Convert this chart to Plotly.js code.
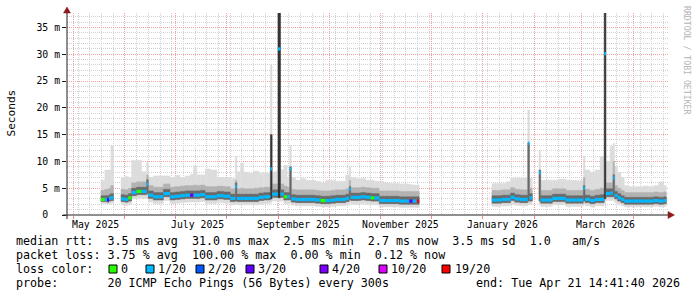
<!DOCTYPE html>
<html><head><meta charset="utf-8">
<script src="https://cdn.plot.ly/plotly-3.0.1.min.js"></script>
<style>html,body{margin:0;padding:0;background:#fff}#chart{width:697px;height:297px}</style>
</head><body><div id="chart"></div>
<script>
// days since 2025-05-01 (start of each consolidated column); null median marks end of a data run
const days = [16.7,19,20.3,21.5,22.6,24.2,
28.7,31,33,35,38,41,44,45,48,51,
54,58,61,64,67,70,72,74,76,79,
82,86,90,94,97,98,100,102,105,108,
111,114,118,119,121,122.5,124,126,128,129.5,
130.5,133,136,139,142,145,148,151,154,157,
160,163,165,166,169,172,175,178,180,183,
186,189,192,195,198,201,203,205.5,206.9,
250.4,253,256,259,261.5,264,267,270,271.8,272.8,
274.5,
278.5,279.5,283,286.5,290,294.5,298,301,305,
306,309,312,315,317.5,318.5,321,322.7,323.7,325.5,
327.5,329.5,332,335,338,341,344,347,350,353,
354.6];

// median rtt (ms)
const median = [2.9,2.9,2.85,3.1,3.2,null,
3.0,2.9,3.2,4.2,4.4,4.4,5.8,3.7,3.4,3.4,
4.0,3.4,3.5,3.6,3.7,3.7,3.7,3.7,3.8,3.4,
3.4,3.6,3.5,3.1,5.3,3.1,3.1,3.1,3.1,3.1,
3.3,3.4,8.6,3.9,3.9,31.0,3.9,3.4,3.4,8.6,
3.0,2.9,2.9,2.9,2.9,2.8,2.7,2.7,2.8,2.9,
2.9,3.1,4.8,3.3,3.3,3.4,3.3,3.2,3.2,2.7,
2.7,2.7,2.7,2.6,2.6,2.6,2.6,2.6,null,
2.8,2.8,2.9,2.9,3.3,3.0,2.9,2.9,13.4,3.2,
null,
7.9,2.8,2.8,3.1,3.1,2.8,2.8,2.8,5.0,
2.9,2.7,2.9,2.9,30.1,4.0,4.1,6.9,3.6,3.2,
2.9,2.6,2.6,2.6,2.6,2.6,2.6,2.7,2.6,2.7,
null];

// lost pings out of 20
const loss = [0,1,3,1,1,null,
1,1,0,1,0,1,1,1,1,1,
1,1,1,1,1,3,1,1,1,1,
1,1,1,1,1,1,1,1,1,1,
1,1,1,1,1,1,1,0,1,1,
1,1,1,1,1,1,0,1,1,1,
1,1,1,1,1,1,1,0,1,1,
1,1,1,1,1,3,1,19,null,
1,1,1,1,1,1,1,1,1,1,
null,
1,1,1,1,1,1,1,1,1,
1,1,1,1,1,1,1,1,1,1,
1,1,1,1,1,1,1,1,1,1,
null];

// smoke: highest ping
const smokeTop = [6.5,8.4,8.4,8.4,13.0,null,
7.0,7.2,7.0,10.2,10.2,8.1,9.8,7.0,7.3,7.3,
7.3,7.0,7.4,7.0,7.3,7.6,9.2,7.5,7.5,8.6,
8.4,7.0,6.9,6.8,10.9,8.1,9.7,8.0,7.8,8.2,
7.8,7.8,28.0,8.0,8.2,37.7,8.5,9.3,7.0,13.0,
7.0,6.5,6.8,6.5,6.5,6.3,6.0,6.5,6.5,6.3,
6.3,7.5,9.0,7.0,6.8,6.8,6.5,6.5,6.3,6.3,
6.0,5.9,5.9,5.8,5.8,5.7,5.6,5.6,null,
5.9,5.9,5.9,6.2,6.9,6.9,6.9,6.9,19.6,6.9,
null,
12.1,6.5,6.5,6.5,6.7,6.5,6.5,6.4,11.0,
8.4,8.0,8.4,10.9,37.7,10.0,12.8,13.4,9.0,8.0,
7.0,5.5,5.3,5.3,5.3,5.4,5.3,5.5,6.2,5.5,
null];

// smoke: upper edge of the middle band
const smokeHi = [4.6,4.8,4.8,5.0,5.5,null,
4.8,4.7,5.0,6.0,6.2,6.2,7.5,5.5,5.2,5.2,
5.8,5.2,5.3,5.4,5.5,5.5,5.6,5.5,5.6,5.3,
5.3,5.4,5.3,4.9,6.5,4.9,5.0,4.9,4.9,5.0,
5.1,5.2,15.0,5.8,5.8,37.7,5.8,5.4,5.2,9.0,
4.8,4.7,4.7,4.7,4.7,4.6,4.5,4.5,4.6,4.7,
4.7,4.9,6.5,5.1,5.1,5.2,5.1,5.0,5.0,4.5,
4.5,4.5,4.5,4.4,4.4,4.4,4.4,4.4,null,
4.6,4.6,4.7,4.7,5.1,4.8,4.7,4.7,13.4,5.0,
null,
8.4,4.6,4.6,4.9,4.9,4.6,4.6,4.6,7.0,
4.8,4.6,4.8,5.0,37.7,6.0,6.0,10.0,5.5,5.0,
4.6,4.2,4.2,4.2,4.2,4.2,4.2,4.3,4.2,4.3,
null];

// smoke: upper edge of the dark inner band
const smokeDark = [3.6,3.6,3.6,3.8,4.0,null,
3.8,3.7,4.0,5.0,5.2,5.2,6.6,4.5,4.2,4.2,
4.8,4.2,4.3,4.4,4.5,4.5,4.5,4.5,4.6,4.2,
4.2,4.4,4.3,3.9,6.0,3.9,3.9,3.9,3.9,3.9,
4.1,4.2,15.0,4.7,4.7,37.7,4.7,4.2,4.2,9.0,
3.8,3.7,3.7,3.7,3.7,3.6,3.5,3.5,3.6,3.7,
3.7,3.9,5.3,4.1,4.1,4.2,4.1,4.0,4.0,3.5,
3.5,3.5,3.5,3.4,3.4,3.4,3.4,3.4,null,
3.6,3.6,3.7,3.7,4.1,3.8,3.7,3.7,13.4,4.0,
null,
8.4,3.6,3.6,3.9,3.9,3.6,3.6,3.6,5.5,
3.7,3.5,3.7,3.8,37.7,4.9,4.9,7.5,4.4,4.0,
3.6,3.3,3.3,3.3,3.3,3.3,3.3,3.4,3.3,3.4,
null];

// smoke: lower edge of the inner bands
const smokeLo = [2.5,2.5,2.4,2.6,2.7,null,
2.5,2.4,2.6,3.6,3.8,3.8,4.0,3.1,2.8,2.8,
3.4,2.8,2.9,3.0,3.1,3.1,3.1,3.1,3.2,2.8,
2.8,3.0,2.9,2.5,2.6,2.5,2.5,2.5,2.5,2.5,
2.7,2.8,3.0,3.3,3.3,3.2,3.3,2.8,2.8,2.8,
2.4,2.3,2.3,2.3,2.3,2.2,2.1,2.1,2.2,2.3,
2.3,2.5,2.8,2.7,2.7,2.8,2.7,2.6,2.6,2.1,
2.1,2.1,2.1,2.0,2.0,2.0,2.0,2.0,null,
2.2,2.2,2.3,2.3,2.7,2.4,2.3,2.3,2.6,2.6,
null,
2.6,2.2,2.2,2.5,2.5,2.2,2.2,2.2,2.6,
2.3,2.1,2.3,2.3,3.0,3.4,3.4,3.4,3.0,2.6,
2.3,2.0,2.0,2.0,2.0,2.0,2.0,2.1,2.0,2.1,
null];

// smoke: lowest ping
const smokeBot = [2.1,2.1,2.0,2.1,2.2,null,
1.9,1.8,2.0,3.0,3.1,3.1,3.3,2.4,2.1,2.1,
2.7,2.1,2.2,2.3,2.4,2.4,2.4,2.4,2.5,2.1,
2.1,2.3,2.2,1.9,2.0,1.9,1.9,1.9,1.9,1.9,
2.0,2.1,2.3,2.6,2.6,2.5,2.6,2.1,2.1,2.2,
1.8,1.7,1.7,1.7,1.7,1.6,1.5,1.5,1.6,1.7,
1.7,1.9,2.2,2.0,2.0,2.1,2.0,1.9,1.9,1.5,
1.5,1.5,1.5,1.4,1.4,1.4,1.4,1.4,null,
1.6,1.6,1.7,1.7,2.0,1.8,1.7,1.7,2.0,2.0,
null,
2.0,1.6,1.6,1.9,1.9,1.6,1.6,1.6,2.0,
1.7,1.5,1.7,1.7,2.4,2.7,2.7,2.7,2.3,2.0,
1.7,1.5,1.5,1.5,1.5,1.5,1.5,1.6,1.5,1.6,
null];

const monthTicks = ['2025-05-01','2025-06-01','2025-07-01','2025-08-01','2025-09-01','2025-10-01',
  '2025-11-01','2025-12-01','2026-01-01','2026-02-01','2026-03-01','2026-04-01'];
const monthLabels = ['May 2025','July 2025','September 2025','November 2025','January 2026','March 2026'];
const yTickVals = [0,5,10,15,20,25,30,35];
const yTickText = ['0\u00a0\u00a0','5 m','10 m','15 m','20 m','25 m','30 m','35 m'];
const lossLevels = [0,1,2,3,4,10,19];
const lossLabels = ['0','1/20','2/20','3/20','4/20','10/20','19/20'];
const lossColors = ['#26ff00','#00b8ff','#0059ff','#5e00ff','#7e00ff','#dd00ff','#ff0000'];
const statsLine1 = 'median rtt:  3.5 ms avg  31.0 ms max  2.5 ms min  2.7 ms now  3.5 ms sd  1.0   am/s';
const statsLine2 = 'packet loss: 3.75 % avg  100.00 % max  0.00 % min  0.12 % now';
const probeLine = 'probe:       20 ICMP Echo Pings (56 Bytes) every 300s';
const endLine = 'end: Tue Apr 21 14:41:40 2026';

const FONT = 'DejaVu Sans Mono';
const DAY = 86400000;
const T0 = Date.UTC(2025, 4, 1);
function dstr(d){ return new Date(T0 + d*DAY).toISOString().slice(0,19).replace('T',' '); }
const nb = s => s.replace(/ /g,'\u00a0');

// layout geometry (pixels)
const PL = 67, PR = 668, PT = 13, PB = 215;
const px = x => (x - PL) / (PR - PL);
const py = y => (PB - y) / (PB - PT);

const xs = [], ws = [], idx = [];
for (let i = 0; i < days.length - 1; i++) {
  if (median[i] === null) continue;
  idx.push(i); xs.push(dstr(days[i])); ws.push((days[i+1] - days[i]) * DAY);
}
function band(lower, upper, color) {
  return {type:'bar', x: xs, base: idx.map(i => lower[i]), y: idx.map(i => upper[i] - lower[i]),
    width: ws, offset: 0, marker: {color: color, line: {width: 0.4, color: color}},
    hoverinfo: 'skip', showlegend: false};
}
// inner band: darker where the inner pings spread far (spikes)
const darkCols = idx.map(i => (smokeDark[i] - median[i] > 2.5) ? '#343434' : '#6a6a6a');
const darkBand = band(smokeLo, smokeDark, '#6a6a6a');
darkBand.marker = {color: darkCols, line: {width: 0.4, color: darkCols}};
const traces = [
  band(smokeBot, smokeTop, '#dcdcdc'),
  band(smokeLo, smokeHi, '#b2b2b2'),
  darkBand,
  {type:'bar', x: xs, base: idx.map(i => median[i] - 0.3), y: idx.map(() => 0.6),
    width: ws, offset: 0,
    marker: {color: idx.map(i => lossColors[lossLevels.indexOf(loss[i])]), line: {width: 0}},
    hoverinfo: 'skip', showlegend: false}
];

const weekly = [];
for (let t = Date.UTC(2025,4,4); t < Date.UTC(2026,3,22); t += 7*DAY) weekly.push(new Date(t).toISOString().slice(0,10));
const yMinor = [];
for (let v = 1; v <= 37; v++) if (v % 5) yMinor.push(v);

const labelPos = ['2025-05-14 05:00','2025-07-14 04:00','2025-09-12 14:00','2025-11-12 14:00','2026-01-12 10:00','2026-03-15 04:00'];

const ann = [];
monthLabels.forEach((t, k) => ann.push({xref:'x', yref:'paper', x: labelPos[k], y: py(224.5), text: nb(t),
  showarrow:false, xanchor:'center', yanchor:'middle', font:{family:FONT, size:9.8, color:'#000'}}));
function txt(t, x, y, anchor, size, color, angle) {
  ann.push({xref:'paper', yref:'paper', x: px(x), y: py(y), text: nb(t), showarrow:false,
    xanchor: anchor || 'left', yanchor:'middle', borderpad:0, textangle: angle || 0,
    font:{family:FONT, size: size || 11.7, color: color || '#000'}});
}
txt(statsLine1, 15, 241);
txt(statsLine2, 15, 255);
txt('loss color:', 15, 269);
txt(probeLine, 15, 283);
txt(endLine, 681, 283, 'right');
txt('Seconds', 11, 113.5, 'center', 11.1, '#000', -90);
txt('RRDTOOL / TOBI OETIKER', 687, 60, 'center', 8.2, '#b4b4b4', 90);

const boxX = [109, 146, 196, 246, 320, 379, 442];
const labX = [120, 157, 207, 257, 331, 390, 454];
const shapes = [];
lossLabels.forEach((t, k) => {
  txt(t, labX[k], 269);
  shapes.push({type:'rect', xref:'paper', yref:'paper', x0: px(boxX[k]), x1: px(boxX[k]+8), y0: py(273), y1: py(265),
    fillcolor: lossColors[k], line:{color:'#000', width:1}});
});
// axes with arrow heads
shapes.push({type:'line', xref:'paper', yref:'paper', x0: px(67), x1: px(67), y0: py(219), y1: py(11), line:{color:'#202020', width:1}});
shapes.push({type:'line', xref:'paper', yref:'paper', x0: px(63), x1: px(670), y0: py(215), y1: py(215), line:{color:'#202020', width:1}});
const P = (x, y) => px(x).toFixed(5) + ',' + py(y).toFixed(5);
shapes.push({type:'path', xref:'paper', yref:'paper', path: 'M' + P(63.5,13) + ' L' + P(70.5,13) + ' L' + P(67,7) + ' Z',
  fillcolor:'#8b1a1a', line:{color:'#8b1a1a', width:0.5}});
shapes.push({type:'path', xref:'paper', yref:'paper', path: 'M' + P(668,211.5) + ' L' + P(668,218.5) + ' L' + P(674.5,215) + ' Z',
  fillcolor:'#8b1a1a', line:{color:'#8b1a1a', width:0.5}});

const layout = {
  width: 697, height: 297, margin: {l: PL, r: 697 - PR, t: PT, b: 297 - PB},
  paper_bgcolor: '#fff', plot_bgcolor: '#fff', barmode: 'overlay', showlegend: false,
  xaxis: {type:'date', range: [dstr(-3.59), '2026-04-21 14:41:40'], tickmode:'array', tickvals: monthTicks,
    showticklabels: false, ticks:'outside', ticklen: 3, tickcolor:'#f08a8a',
    showgrid: true, gridcolor:'#f2a0a0', griddash:'1px,1px', gridwidth: 1, zeroline: false, showline: false,
    minor: {tickmode:'array', tickvals: weekly, showgrid: true, gridcolor:'#d2d2d2', griddash:'1px,1px', gridwidth: 1, ticks:''},
    fixedrange: true},
  yaxis: {range: [0, 37.7], tickmode:'array', tickvals: yTickVals, ticktext: yTickText,
    ticks:'outside', ticklen: 4, tickcolor:'#202020', tickfont:{family:FONT, size:9.8, color:'#000'},
    showgrid: true, gridcolor:'#f2a0a0', griddash:'1px,1px', gridwidth: 1, zeroline: false, showline: false,
    minor: {tickmode:'array', tickvals: yMinor, showgrid: true, gridcolor:'#d2d2d2', griddash:'1px,1px', gridwidth: 1, ticks:''},
    fixedrange: true},
  annotations: ann, shapes: shapes
};
Plotly.newPlot('chart', traces, layout, {staticPlot: true, displayModeBar: false});
</script></body></html>
